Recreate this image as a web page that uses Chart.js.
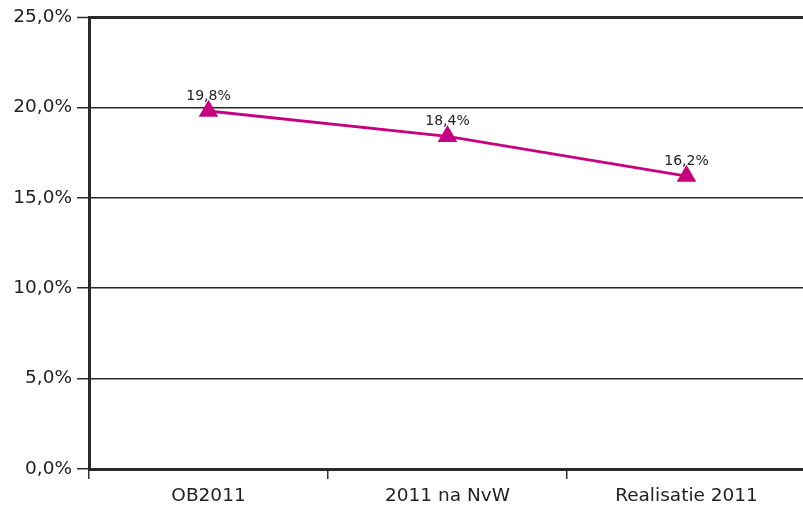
<!DOCTYPE html>
<html><head><meta charset="utf-8">
<script src="https://cdn.jsdelivr.net/npm/chart.js@4/dist/chart.umd.min.js"></script>
<style>html,body{margin:0;padding:0;overflow:hidden;background:#fff}canvas{display:block}</style>
</head><body><canvas id="c" width="806" height="511" style="width:806px;height:511px"></canvas>
<script>
const categories = ["OB2011", "2011 na NvW", "Realisatie 2011"];
const values = [19.8, 18.4, 16.2];
const yTicks = [0, 5, 10, 15, 20, 25];
const lineColor = "#C6007E";
const FONT = '"DejaVu Sans", Arial, sans-serif';
const fmt = v => v.toFixed(1).replace('.', ',') + '%';

const labelPlugin = {
  id: 'pointLabels',
  afterDatasetsDraw(chart) {
    const ctx = chart.ctx;
    const meta = chart.getDatasetMeta(0);
    ctx.save();
    ctx.font = '14px ' + FONT;
    ctx.fillStyle = '#222';
    ctx.textAlign = 'center';
    ctx.textBaseline = 'alphabetic';
    meta.data.forEach((pt, i) => {
      ctx.fillText(fmt(values[i]), pt.x, pt.y - 11);
    });
    ctx.restore();
  }
};

new Chart(document.getElementById('c'), {
  type: 'line',
  data: {
    labels: categories,
    datasets: [{
      data: values,
      borderColor: lineColor,
      backgroundColor: lineColor,
      borderWidth: 2.8,
      pointStyle: 'triangle',
      pointRadius: 8.5,
      pointHoverRadius: 8.5,
      tension: 0
    }]
  },
  options: {
    responsive: false,
    animation: false,
    devicePixelRatio: 1,
    layout: { autoPadding: false, padding: { top: 17, left: 0, right: 0, bottom: 0 } },
    plugins: { legend: { display: false }, tooltip: { enabled: false } },
    scales: {
      x: {
        offset: true,
        afterFit: s => { s.height = 42; },
        grid: { offset: true, drawOnChartArea: false, color: '#333', lineWidth: 1.5, tickLength: 10 },
        border: { color: '#2a2a2a', width: 3 },
        ticks: { color: '#222', padding: 6, font: { size: 18.5, family: FONT } }
      },
      y: {
        min: 0, max: 25,
        afterFit: s => { s.width = 89; },
        afterBuildTicks: s => { s.ticks = yTicks.map(v => ({ value: v })); },
        grid: {
          color: '#2a2a2a',
          lineWidth: c => (c.tick && c.tick.value === 25) ? 3 : 1.5,
          tickLength: 12,
          tickWidth: 1.5,
          tickColor: '#2a2a2a'
        },
        border: { color: '#2a2a2a', width: 3 },
        ticks: {
          color: '#222', padding: 5,
          font: { size: 18.5, family: FONT },
          callback: v => fmt(v)
        }
      }
    }
  },
  plugins: [labelPlugin]
});
</script>
</body></html>
